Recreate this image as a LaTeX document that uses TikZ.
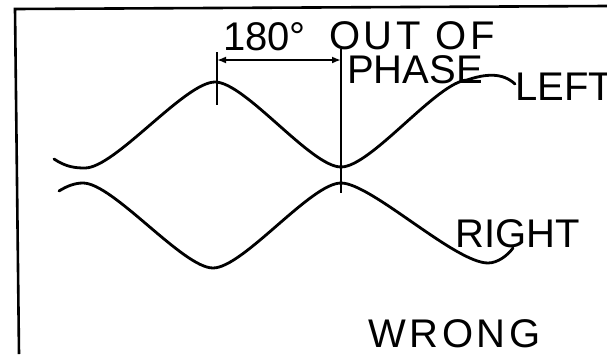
\documentclass[tikz,border=0pt]{standalone}
\usepackage{fontspec}
\setmainfont{Liberation Sans}
\newfontfamily\widefont[LetterSpace=9]{Liberation Sans}
\usepackage{tikz}
\usetikzlibrary{positioning,arrows.meta,calc}
\tikzset{
  lbl/.style={inner sep=0pt,anchor=base west,font=\fontsize{40}{44}\selectfont},
  widelbl/.style={lbl,font=\widefont\fontsize{40}{44}\selectfont},
  wave/.style={line width=2.8pt,line cap=round,line join=round},
  frameline/.style={line width=2.6pt},
  marker/.style={line width=2.2pt},
  dimline/.style={{Latex[length=9pt,width=7pt]}-{Latex[length=9pt,width=7pt]},line width=2.2pt},
}

\begin{document}
\begin{tikzpicture}[x=1pt,y=-1pt]
  \useasboundingbox (0,0) rectangle (607,354);
  % frame
  \draw[frameline] (19,354) -- (15,9) -- (607,6);
  % labels
  \node[lbl]     (deg)   at (223,50)  {180°};
  \node[widelbl] (out)   at (329,49)  {OUT OF};
  \node[lbl]     (phase) at (347,83)  {PHASE};
  \node[lbl]     (left)  at (515,100) {LEFT};
  \node[lbl]     (right) at (455,247) {RIGHT};
  \node[widelbl] (wrong) at (368,347) {WRONG};
  % marker lines
  \coordinate (mkA top) at (217,52);
  \coordinate (mkA bot) at (217,105);
  \coordinate (mkB top) at (341,49);
  \coordinate (mkB bot) at (341,193);
  \draw[marker] (mkA top) -- (mkA bot);
  \draw[marker] (mkB top) -- (mkB bot);
  \draw[dimline] (mkA top |- 0,60) -- (mkB top |- 0,60);
  % left channel
  \draw[wave] (54,159) .. controls (66,167) and (75,168) .. (85,168)
              .. controls (115,168) and (185,82) .. (215,82)
              .. controls (245,82) and (311,167) .. (341,167)
              .. controls (371,167) and (437,82) .. (467,80)
              .. controls (485,74) and (502,72) .. (515,84);
  % right channel
  \draw[wave] (59,191) .. controls (67,186) and (75,183) .. (83,183)
              .. controls (113,183) and (183,268) .. (213,268)
              .. controls (243,268) and (311,183) .. (341,183)
              .. controls (371,183) and (455,263) .. (488,263)
              .. controls (498,263) and (508,255) .. (513,248);
\end{tikzpicture}
\end{document}
